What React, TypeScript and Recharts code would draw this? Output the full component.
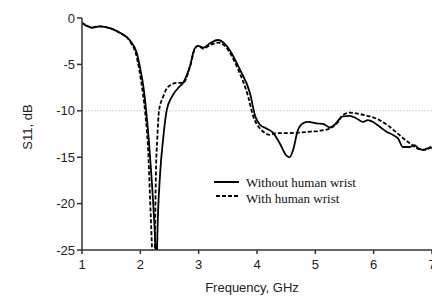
import { LineChart, Line, XAxis, YAxis, ReferenceLine, Legend } from 'recharts'

// S11 curves
const freqWithout = [
  1.0, 1.08, 1.17, 1.3, 1.48, 1.65, 1.82, 1.94, 1.99, 2.05, 2.1, 2.15, 2.19, 2.23, 2.26, 2.28,
  2.29, 2.34, 2.39, 2.45, 2.54, 2.67, 2.73, 2.85, 2.93, 2.99, 3.08, 3.2, 3.33, 3.45, 3.53, 3.71,
  3.88, 3.97, 4.05, 4.16, 4.28, 4.39, 4.5, 4.56, 4.62, 4.7, 4.79, 4.88, 5.02, 5.13, 5.25, 5.33,
  5.47, 5.59, 5.7, 5.82, 5.9, 5.99, 6.1, 6.22, 6.33, 6.42, 6.5, 6.62, 6.7, 6.76, 6.84, 6.96, 7.0,
]
const s11Without = [
  -0.55, -0.85, -1.05, -0.9, -1.1, -1.6, -2.4, -3.8, -5.2, -7.3, -10, -13.5, -17, -21, -25, -30,
  -24, -16.7, -13.1, -10, -8.5, -7.4, -7.0, -5.2, -3.3, -3.0, -3.2, -2.7, -2.37, -2.8, -3.45, -5.6,
  -8.1, -10.6, -11.5, -11.9, -12.4, -13.5, -14.8, -15.0, -14.2, -12.1, -11.35, -11.2, -11.35, -11.4, -11.8, -11.5,
  -10.6, -10.55, -10.8, -11.2, -11.0, -11.2, -11.7, -12.25, -12.6, -13.0, -13.9, -13.9, -13.7, -14.0, -14.2, -14.0, -14.0,
]

const freqWith = [
  1.0, 1.08, 1.17, 1.3, 1.48, 1.65, 1.82, 1.93, 1.98, 2.03, 2.08, 2.14, 2.17, 2.2, 2.22, 2.25,
  2.267, 2.29, 2.32, 2.39, 2.48, 2.62, 2.73, 2.85, 2.93, 2.99, 3.08, 3.2, 3.33, 3.45, 3.53, 3.68,
  3.85, 3.93, 4.05, 4.14, 4.22, 4.33, 4.45, 4.56, 4.73, 4.9, 5.08, 5.25, 5.39, 5.47, 5.59, 5.76,
  5.93, 6.1, 6.27, 6.44, 6.62, 6.79, 6.9, 7.0,
]
const s11With = [
  -0.5, -0.8, -1.0, -0.9, -1.1, -1.6, -2.5, -4.0, -5.5, -7.5, -10, -15, -20, -25, -30, -24,
  -16.7, -13.1, -10, -8.5, -7.4, -7.0, -7.0, -5.3, -3.4, -3.0, -3.3, -2.9, -2.66, -3.0, -3.7, -5.6,
  -8.5, -10.5, -11.9, -12.4, -12.6, -12.4, -12.4, -12.4, -12.35, -12.25, -12.15, -11.9, -11.2, -10.45, -10.2, -10.35,
  -10.6, -11.0, -11.7, -12.6, -13.5, -14.15, -14.2, -13.7,
]

const xTicks = [1, 2, 3, 4, 5, 6, 7]
const yTicks = [-25, -20, -15, -10, -5, 0]

const dataWithout = freqWithout.map((f, i) => ({ f, s: s11Without[i] }))
const dataWith = freqWith.map((f, i) => ({ f, s: s11With[i] }))

const tickStyle = { fontSize: 13, fill: '#222', fontFamily: '"Liberation Sans", Arial, sans-serif' }

function LegendBox() {
  const txt = { fontFamily: '"Liberation Serif", "Times New Roman", serif', fontSize: 13, color: '#111' }
  return (
    <div style={{ lineHeight: '16px' }}>
      <div style={{ display: 'flex', alignItems: 'center' }}>
        <svg width={33} height={16}><line x1={1} y1={7} x2={26} y2={7} stroke="#000" strokeWidth={2} /></svg>
        <span style={txt}>Without human wrist</span>
      </div>
      <div style={{ display: 'flex', alignItems: 'center' }}>
        <svg width={33} height={16}><line x1={3} y1={5} x2={25} y2={5} stroke="#000" strokeWidth={2} strokeDasharray="4 2" /></svg>
        <span style={txt}>With human wrist</span>
      </div>
    </div>
  )
}

export default function App() {
  return (
    <div style={{ position: 'fixed', left: 0, top: 0, width: 432, height: 297, overflow: 'hidden', background: '#fff' }}>
      <LineChart width={440} height={297} margin={{ top: 18, right: 8, left: 0, bottom: 0 }}>
        <ReferenceLine y={-10} stroke="#cfcfcf" strokeDasharray="2 1" />
        <XAxis
          type="number"
          dataKey="f"
          domain={[1, 7]}
          ticks={xTicks}
          allowDataOverflow
          height={47}
          stroke="#333"
          strokeWidth={1.5}
          tickSize={4}
          tickMargin={6}
          tick={tickStyle}
          label={{
            content: ({ viewBox }: any) => (
              <text x={viewBox.x + viewBox.width / 2 - 5} y={viewBox.y + 42} textAnchor="middle"
                style={{ fontSize: 13, fill: '#222', fontFamily: '"Liberation Sans", Arial, sans-serif' }}>
                Frequency, GHz
              </text>
            ),
          }}
        />
        <YAxis
          type="number"
          dataKey="s"
          domain={[-25, 0]}
          ticks={yTicks}
          allowDataOverflow
          width={82}
          stroke="#333"
          strokeWidth={1.5}
          tickSize={5}
          tickMargin={2}
          tick={tickStyle}
          label={{
            content: ({ viewBox }: any) => {
              const cx = 27
              const cy = viewBox.y + viewBox.height / 2 - 7
              return (
                <text x={cx} y={cy} textAnchor="middle" dominantBaseline="central" transform={`rotate(-90 ${cx} ${cy})`}
                  style={{ fontSize: 13, fill: '#222', fontFamily: '"Liberation Sans", Arial, sans-serif' }}>
                  S11, dB
                </text>
              )
            },
          }}
        />
        <Legend
          layout="horizontal"
          verticalAlign="middle"
          align="center"
          content={() => <LegendBox />}
          wrapperStyle={{ position: 'absolute', left: 213, top: 175, width: 'auto' }}
        />
        <Line data={dataWithout} dataKey="s" type="monotone" stroke="#000" strokeWidth={1.8} dot={false}
          name="Without human wrist" isAnimationActive={false} />
        <Line data={dataWith} dataKey="s" type="monotone" stroke="#000" strokeWidth={1.8} strokeDasharray="4 2"
          dot={false} name="With human wrist" isAnimationActive={false} />
      </LineChart>
    </div>
  )
}
